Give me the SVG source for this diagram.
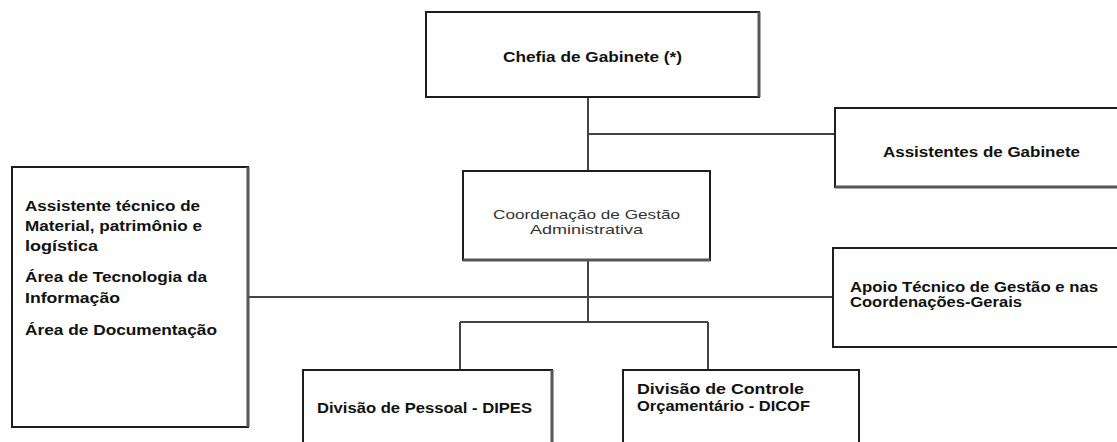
<svg xmlns="http://www.w3.org/2000/svg" width="1117" height="442" viewBox="0 0 1117 442">
<style>
.box{fill:#fff;stroke:#1e1e1e;stroke-width:2}
.sh{fill:none;stroke:#555;stroke-width:3}
.c{fill:none;stroke:#444;stroke-width:2}
.b{font-family:"Liberation Sans",Arial,sans-serif;font-weight:bold;font-size:14px;fill:#111}
.r{font-family:"Liberation Sans",Arial,sans-serif;font-size:13.5px;fill:#333}
</style>
<rect width="1117" height="442" fill="#fff"/>
<g id="connectors">
<path class="c" d="M588 97V171M588 134H835M588 260V322M460 322H708M460 322V370M708 322V370"/>
<path class="c" stroke="#222" d="M248 297H833"/>
</g>
<g id="chefia">
<rect class="box" x="426" y="12" width="333" height="85"/>
<path class="sh" d="M759 12V97"/>
<text class="b" x="503" y="62" textLength="179" lengthAdjust="spacingAndGlyphs">Chefia de Gabinete (*)</text>
</g>
<g id="assistentes">
<rect class="box" x="835" y="108" width="290" height="79"/>
<path class="sh" d="M835 187H1117"/>
<text class="b" x="883" y="157" textLength="197" lengthAdjust="spacingAndGlyphs">Assistentes de Gabinete</text>
</g>
<g id="coordenacao">
<rect class="box" x="463" y="171" width="247" height="89"/>
<path class="sh" d="M463 260H710"/>
<text class="r" x="493" y="219" textLength="187" lengthAdjust="spacingAndGlyphs">Coordenação de Gestão</text>
<text class="r" x="530" y="234" textLength="113" lengthAdjust="spacingAndGlyphs">Administrativa</text>
</g>
<g id="areas">
<rect class="box" x="12" y="167" width="236" height="260"/>
<path class="sh" d="M248 167V427"/>
<text class="b" x="25" y="211" textLength="175" lengthAdjust="spacingAndGlyphs">Assistente técnico de</text>
<text class="b" x="25" y="231" textLength="177" lengthAdjust="spacingAndGlyphs">Material, patrimônio e</text>
<text class="b" x="25" y="251" textLength="73" lengthAdjust="spacingAndGlyphs">logística</text>
<text class="b" x="25" y="282" textLength="182" lengthAdjust="spacingAndGlyphs">Área de Tecnologia da</text>
<text class="b" x="25" y="303" textLength="95" lengthAdjust="spacingAndGlyphs">Informação</text>
<text class="b" x="25" y="335" textLength="192" lengthAdjust="spacingAndGlyphs">Área de Documentação</text>
</g>
<g id="apoio">
<rect class="box" x="833" y="248" width="300" height="99"/>
<text class="b" x="850" y="292" textLength="248" lengthAdjust="spacingAndGlyphs">Apoio Técnico de Gestão e nas</text>
<text class="b" x="850" y="307" textLength="172" lengthAdjust="spacingAndGlyphs">Coordenações-Gerais</text>
</g>
<g id="dipes">
<rect class="box" x="303" y="370" width="249" height="90"/>
<path class="sh" d="M552 370V442"/>
<text class="b" x="317" y="413" textLength="215" lengthAdjust="spacingAndGlyphs">Divisão de Pessoal - DIPES</text>
</g>
<g id="dicof">
<rect class="box" x="623" y="370" width="236" height="90"/>
<text class="b" x="637" y="394" textLength="167" lengthAdjust="spacingAndGlyphs">Divisão de Controle</text>
<text class="b" x="637" y="411" textLength="173" lengthAdjust="spacingAndGlyphs">Orçamentário - DICOF</text>
</g>
</svg>
